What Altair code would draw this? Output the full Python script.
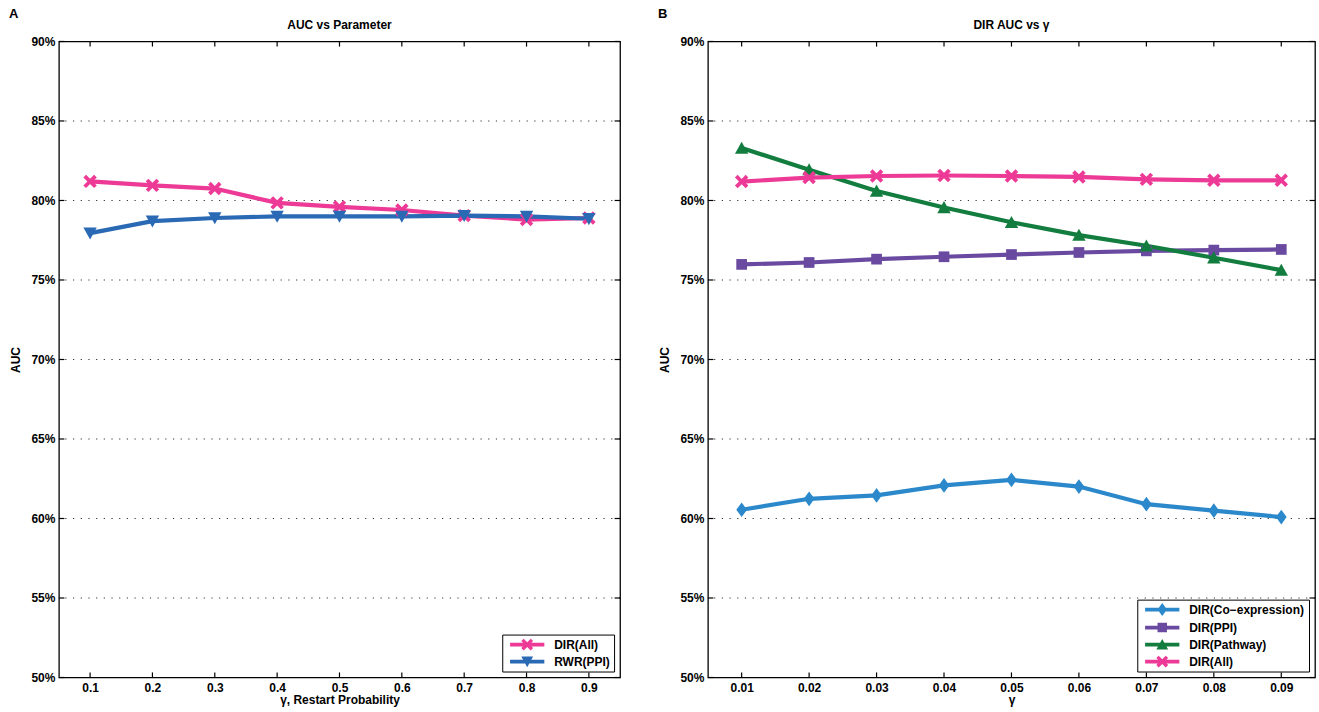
import altair as alt
import pandas as pd

# ---------------- data ----------------
gamma_a = [0.1, 0.2, 0.3, 0.4, 0.5, 0.6, 0.7, 0.8, 0.9]
dir_all_a = [81.2, 80.95, 80.75, 79.85, 79.6, 79.4, 79.05, 78.8, 78.9]
rwr_ppi_a = [77.95, 78.7, 78.9, 79.0, 79.0, 79.0, 79.05, 79.0, 78.85]

gamma_b = [0.01, 0.02, 0.03, 0.04, 0.05, 0.06, 0.07, 0.08, 0.09]
coexp_b = [60.55, 61.24, 61.45, 62.08, 62.43, 62.01, 60.9, 60.49, 60.09]
ppi_b = [75.98, 76.1, 76.31, 76.46, 76.6, 76.73, 76.83, 76.88, 76.92]
pathway_b = [83.3, 81.94, 80.6, 79.56, 78.63, 77.82, 77.15, 76.4, 75.62]
all_b = [81.19, 81.44, 81.54, 81.57, 81.54, 81.48, 81.33, 81.27, 81.27]

y_ticks = [50, 55, 60, 65, 70, 75, 80, 85, 90]
grid_ticks = [55, 60, 65, 70, 75, 80, 85]

FONT = "Liberation Sans"
PINK = "#EC3A96"
BLUE_A = "#2A69B4"
BLUE_B = "#2B88CB"
PURPLE = "#6A4AA0"
GREEN = "#127D3E"

X_PATH = ("M-1,-0.6L-0.6,-1L0,-0.4L0.6,-1L1,-0.6L0.4,0L1,0.6L0.6,1"
          "L0,0.4L-0.6,1L-1,0.6L-0.4,0Z")
TRI_DOWN = "M-1,-0.85L1,-0.85L0,0.95Z"
TRI_UP = "M0,-0.95L1,0.85L-1,0.85Z"
DIAMOND = "M0,-1.1L0.8,0L0,1.1L-0.8,0Z"
SQUARE = "M-0.8,-0.8L0.8,-0.8L0.8,0.8L-0.8,0.8Z"
LINE_SEG = "M-2.9,-0.32L2.9,-0.32L2.9,0.32L-2.9,0.32Z"


def build_df(xs, names, series):
    rows = []
    for name, vals in zip(names, series):
        for x, v in zip(xs, vals):
            rows.append({"x": x, "auc": v, "series": name})
    return pd.DataFrame(rows)


def panel(xs, names, series, colors, shapes, xdom, xfmt, title, xtitle,
          label, width, height):
    df = build_df(xs, names, series)
    xscale = alt.Scale(domain=xdom, nice=False, zero=False)
    yscale = alt.Scale(domain=[50, 90], nice=False, zero=False)
    cscale = alt.Scale(domain=names, range=colors)

    x_axis = alt.Axis(values=xs, format=xfmt, title=xtitle, grid=False,
                      ticks=False, domain=False, labelPadding=5,
                      labelFont=FONT, labelFontSize=12, labelFontWeight="bold",
                      labelColor="black", titleFont=FONT, titleFontSize=12,
                      titleFontWeight="bold", titleColor="black",
                      titlePadding=1)
    y_axis = alt.Axis(values=y_ticks, labelExpr="datum.value + '%'",
                      title="AUC", grid=False, ticks=False, domain=False,
                      labelPadding=4, labelFont=FONT, labelFontSize=12,
                      labelFontWeight="bold", labelColor="black",
                      titleFont=FONT, titleFontSize=12, titleFontWeight="bold",
                      titleColor="black", titlePadding=8)

    base = alt.Chart(df)

    # dotted horizontal grid
    grid_df = pd.DataFrame({"g": grid_ticks})
    grid = alt.Chart(grid_df).mark_rule(
        color="black", strokeDash=[1.2, 6.5], strokeWidth=1.2, opacity=0.8
    ).encode(y=alt.Y("g:Q", scale=yscale, axis=y_axis))

    # inner ticks (MATLAB style)
    xt_len = 0.32
    xt_rows = []
    for x in xs:
        xt_rows.append({"tx": x, "ty": 50, "ty2": 50 + xt_len})
        xt_rows.append({"tx": x, "ty": 90, "ty2": 90 - xt_len})
    xticks = alt.Chart(pd.DataFrame(xt_rows)).mark_rule(
        color="black", strokeWidth=1.2
    ).encode(x=alt.X("tx:Q", scale=xscale, axis=x_axis),
             y=alt.Y("ty:Q", scale=yscale), y2="ty2:Q")

    span = xdom[1] - xdom[0]
    yt_len = span * 5.5 / width
    yt_rows = []
    for y in y_ticks:
        yt_rows.append({"ux": xdom[0], "ux2": xdom[0] + yt_len, "uy": y})
        yt_rows.append({"ux": xdom[1], "ux2": xdom[1] - yt_len, "uy": y})
    yticks = alt.Chart(pd.DataFrame(yt_rows)).mark_rule(
        color="black", strokeWidth=1.2
    ).encode(x=alt.X("ux:Q", scale=xscale), x2="ux2:Q",
             y=alt.Y("uy:Q", scale=yscale))

    lines = base.mark_line(strokeWidth=4.2).encode(
        x=alt.X("x:Q", scale=xscale),
        y=alt.Y("auc:Q", scale=yscale),
        color=alt.Color("series:N", scale=cscale, legend=None),
        detail="series:N",
    )
    points = base.mark_point(filled=True, opacity=1, size=180).encode(
        x=alt.X("x:Q", scale=xscale),
        y=alt.Y("auc:Q", scale=yscale),
        color=alt.Color("series:N", scale=cscale, legend=None),
        shape=alt.Shape("series:N", scale=alt.Scale(domain=names, range=shapes),
                        legend=None),
    )

    legend = alt.Legend(
        title=None, orient="bottom-right", offset=6,
        strokeColor="black", fillColor="white", padding=4,
        labelFont=FONT, labelFontSize=12, labelFontWeight="bold",
        labelColor="black", symbolSize=140, symbolOffset=15,
        labelOffset=21, rowPadding=5, symbolStrokeWidth=0,
    )
    leg_shapes = [LINE_SEG + s for s in shapes]
    leg_layer = base.transform_filter("false").mark_point(
        filled=True, opacity=1
    ).encode(
        x=alt.X("x:Q", scale=xscale),
        y=alt.Y("auc:Q", scale=yscale),
        color=alt.Color("series:N",
                        scale=alt.Scale(domain=names, range=colors),
                        legend=legend, sort=names),
        shape=alt.Shape("series:N",
                        scale=alt.Scale(domain=names, range=leg_shapes),
                        legend=legend, sort=names),
    )

    tag = alt.Chart(pd.DataFrame({"t": [label]})).mark_text(
        align="left", baseline="middle", font=FONT, fontSize=13,
        fontWeight="bold", color="black"
    ).encode(x=alt.value(-50), y=alt.value(-28), text="t:N")

    head = alt.Chart(pd.DataFrame({"t": [title]})).mark_text(
        align="center", baseline="middle", font=FONT, fontSize=12,
        fontWeight="bold", color="black"
    ).encode(x=alt.value(width / 2), y=alt.value(-16), text="t:N")

    layered = alt.layer(grid, xticks, yticks, lines, points, leg_layer,
                        tag, head)
    layered = layered.resolve_scale(color="independent", shape="independent")
    return layered.properties(width=width, height=height)


panel_a = panel(
    gamma_a, ["DIR(All)", "RWR(PPI)"], [dir_all_a, rwr_ppi_a],
    [PINK, BLUE_A], [X_PATH, TRI_DOWN], [0.05, 0.95], ".1f",
    "AUC vs Parameter", "γ, Restart Probability", "A", 562, 637,
)

panel_b = panel(
    gamma_b,
    ["DIR(Co\u2212expression)", "DIR(PPI)", "DIR(Pathway)", "DIR(All)"],
    [coexp_b, ppi_b, pathway_b, all_b],
    [BLUE_B, PURPLE, GREEN, PINK], [DIAMOND, SQUARE, TRI_UP, X_PATH],
    [0.005, 0.095], ".2f",
    "DIR AUC vs γ", "γ", "B", 608, 637,
)

chart = alt.hconcat(panel_a, panel_b, spacing=35).resolve_scale(
    color="independent", shape="independent"
).properties(
    padding={"left": 8, "top": 6, "right": 2, "bottom": 0},
    background="white",
).configure_view(stroke="black", strokeWidth=1.3)

chart.save("out.html", embed_options={"renderer": "svg", "actions": False})
